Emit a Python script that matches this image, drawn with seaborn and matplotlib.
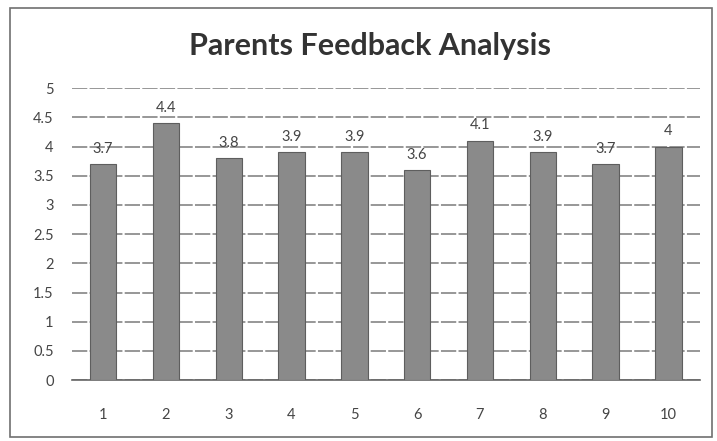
import matplotlib
matplotlib.use('Agg')
import matplotlib.pyplot as plt
import seaborn as sns
import pandas as pd
from matplotlib.patches import Rectangle

# data
parents = ['1', '2', '3', '4', '5', '6', '7', '8', '9', '10']
scores = [3.7, 4.4, 3.8, 3.9, 3.9, 3.6, 4.1, 3.9, 3.7, 4]
y_ticks = [0, 0.5, 1, 1.5, 2, 2.5, 3, 3.5, 4, 4.5, 5]
y_labels = ['0', '0.5', '1', '1.5', '2', '2.5', '3', '3.5', '4', '4.5', '5']

df = pd.DataFrame({'parent': parents, 'score': scores})

sns.set_style('white')
plt.rcParams['font.family'] = ['Lato', 'DejaVu Sans']

text_col = '#454545'
bar_col = '#8a8a8a'
grid_col = '#7a7a7a'

fig = plt.figure(figsize=(7.17, 4.41), dpi=100)
fig.patch.set_facecolor('white')
ax = fig.add_axes([0.100, 0.138, 0.876, 0.662])

sns.barplot(data=df, x='parent', y='score', color=bar_col, width=0.42,
            edgecolor='#5e5e5e', linewidth=0.8, saturation=1, ax=ax, zorder=3)

ax.set_ylim(0, 5)
ax.set_xlim(-0.5, len(parents) - 0.5)
ax.set_yticks(y_ticks)
ax.set_yticklabels(y_labels)
ax.yaxis.grid(True, color=grid_col, linewidth=1.1, linestyle=(0, (10, 1.5)))
ax.set_axisbelow(True)
for side in ['left', 'right', 'top']:
    ax.spines[side].set_visible(False)
ax.spines['bottom'].set_color('#666666')
ax.spines['bottom'].set_linewidth(1.2)
ax.tick_params(axis='y', length=0, pad=13, labelsize=10.5, labelcolor=text_col)
ax.tick_params(axis='x', length=0, pad=20, labelsize=10.5, labelcolor=text_col)
ax.set_xlabel('')
ax.set_ylabel('')

for i, v in enumerate(scores):
    ax.annotate(f'{v:g}', (i, v), xytext=(0, 6), textcoords='offset points',
                ha='center', va='bottom', fontsize=10.5, color=text_col)

fig.text(0.516, 0.895, 'Parents Feedback Analysis', ha='center', va='center',
         fontsize=22, fontweight='bold', color='#333333')

fig.patches.append(Rectangle((0.014, 0.01), 0.979, 0.972, transform=fig.transFigure,
                             fill=False, edgecolor='#707070', linewidth=1.2))

fig.savefig('out.png', dpi=100, facecolor='white')
